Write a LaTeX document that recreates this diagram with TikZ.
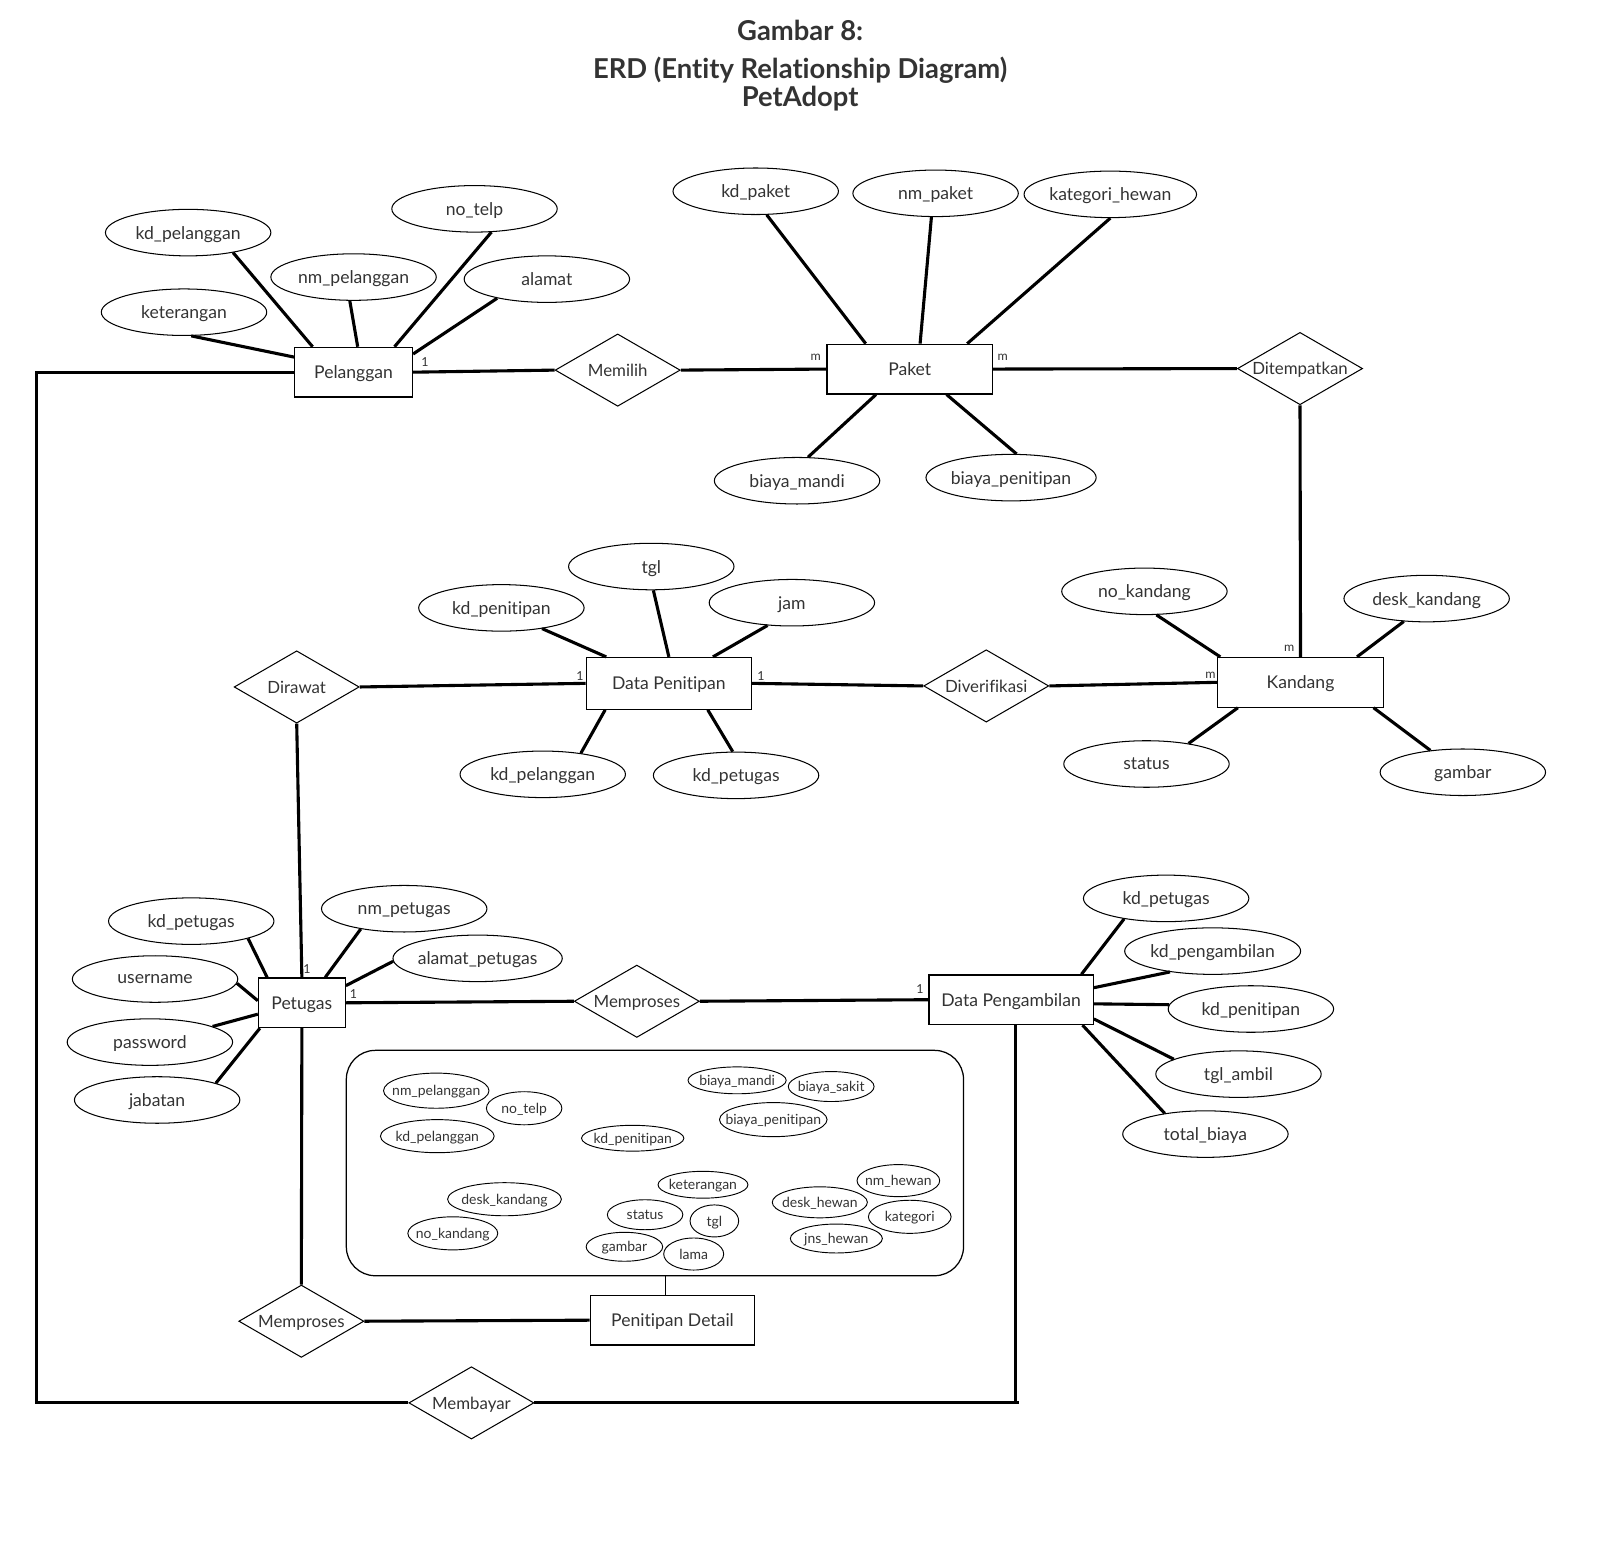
\documentclass[tikz,border=0pt]{standalone}
\usepackage{fontspec}
\setmainfont{Lato}[Ligatures=NoCommon]
\usetikzlibrary{shapes.geometric}
\definecolor{ink}{HTML}{333333}

\begin{document}
\begin{tikzpicture}[x=1pt,y=-1pt,
  every node/.style={text=ink, text depth=0pt},
  conn/.style={line width=3pt},
  entity/.style={draw, line width=1.2pt, minimum width=160pt, minimum height=48pt, inner sep=0pt, font=\fontsize{17}{18}\selectfont},
  attr/.style={draw, ellipse, line width=1pt, minimum width=160pt, minimum height=45pt, inner sep=0pt, font=\fontsize{17}{18}\selectfont},
  rel/.style={draw, diamond, line width=1pt, minimum width=121pt, minimum height=70pt, inner sep=0pt,
    label={[font=\fontsize{16.3}{18}\selectfont, text=ink]center:#1}},
  sattr/.style={draw, ellipse, line width=0.9pt, inner sep=0pt,
    label={[font=\fontsize{13.5}{14}\selectfont, text=ink]center:#1}},
  card/.style={font=\fontsize{12}{13}\selectfont, inner sep=0pt},
  heading/.style={font=\fontsize{26.5}{30}\selectfont\bfseries, text=ink},
]
\useasboundingbox (0,0) rectangle (1568,1500);

% heading
\node[heading] (t1) at (774,29) {Gambar 8:};
\node[heading] (t2) at (774,66) {ERD (Entity Relationship Diagram)};
\node[heading] (t3) at (774,93) {PetAdopt};

% entities
\node[entity, minimum width=114pt] (pel) at (342,360) {Pelanggan};
\node[entity] (pak) at (880,357) {Paket};
\node[entity, minimum height=50pt] (dp) at (647,661) {Data Penitipan};
\node[entity] (kand) at (1258,660) {Kandang};
\node[entity, minimum width=84pt] (pet) at (292,970) {Petugas};
\node[entity, minimum width=159pt] (dpg) at (978,967) {Data Pengambilan};
\node[entity, minimum width=159pt] (pdet) at (650.5,1277) {Penitipan Detail};

% relationships
\node[rel=Memilih] (memilih) at (597.5,358) {};
\node[rel=Ditempatkan] (ditem) at (1257.5,356.5) {};
\node[rel=Dirawat] (dirawat) at (287,664.5) {};
\node[rel=Diverifikasi] (diver) at (954,663.5) {};
\node[rel=Memproses] (memp1) at (616,968.5) {};
\node[rel=Memproses] (memp2) at (291.5,1278) {};
\node[rel=Membayar] (memb) at (456,1357) {};

% attributes of Pelanggan
\node[attr] (kdpel) at (182,225) {kd\_pelanggan};
\node[attr] (nmpel) at (342,268) {nm\_pelanggan};
\node[attr] (notelp) at (459,202) {no\_telp};
\node[attr] (alamat) at (529,270) {alamat};
\node[attr] (ket) at (178,302) {keterangan};

% attributes of Paket
\node[attr] (kdpak) at (731,185) {kd\_paket};
\node[attr] (nmpak) at (905,187) {nm\_paket};
\node[attr] (kathew) at (1074,188) {kategori\_hewan};
\node[attr] (bmandi) at (771,465) {biaya\_mandi};
\node[attr] (bpen) at (978,462) {biaya\_penitipan};

% attributes of Data Penitipan
\node[attr] (kdpen) at (485,588) {kd\_penitipan};
\node[attr] (tgl) at (630,548) {tgl};
\node[attr] (jam) at (766,583) {jam};
\node[attr] (dpkdpel) at (525,749) {kd\_pelanggan};
\node[attr] (dpkdpet) at (712,750) {kd\_petugas};

% attributes of Kandang
\node[attr] (nokand) at (1107,572) {no\_kandang};
\node[attr] (deskk) at (1380,579) {desk\_kandang};
\node[attr] (status) at (1109,739) {status};
\node[attr] (gambar) at (1415,747) {gambar};

% attributes of Petugas
\node[attr] (kdpet) at (185,891) {kd\_petugas};
\node[attr] (user) at (150,947) {username};
\node[attr] (pass) at (145,1008) {password};
\node[attr] (jab) at (152,1064) {jabatan};
\node[attr] (nmpet) at (391,879) {nm\_petugas};
\node[attr] (alpet) at (462,927) {alamat\_petugas};

% attributes of Data Pengambilan
\node[attr] (dpgkdpet) at (1128,869) {kd\_petugas};
\node[attr] (kdpeng) at (1173,920) {kd\_pengambilan};
\node[attr] (dpgkdpen) at (1210,976) {kd\_penitipan};
\node[attr] (tglamb) at (1198,1039) {tgl\_ambil};
\node[attr] (totb) at (1166,1097) {total\_biaya};

% Penitipan Detail grouping box and its attributes
\node[draw, rounded corners=28pt, line width=1.2pt, minimum width=597pt, minimum height=218pt, inner sep=0pt] (box) at (633.5,1125) {};
\node[sattr=nm\_pelanggan, minimum width=102pt, minimum height=34pt] (b1) at (422,1055) {};
\node[sattr=no\_telp, minimum width=73pt, minimum height=32pt] (b2) at (507,1072) {};
\node[sattr=kd\_pelanggan, minimum width=110pt, minimum height=32pt] (b3) at (423,1099) {};
\node[sattr=kd\_penitipan, minimum width=99pt, minimum height=25pt] (b4) at (612,1101) {};
\node[sattr=biaya\_mandi, minimum width=95pt, minimum height=26pt] (b5) at (713,1045) {};
\node[sattr=biaya\_sakit, minimum width=83pt, minimum height=29pt] (b6) at (804,1051) {};
\node[sattr=biaya\_penitipan, minimum width=104pt, minimum height=33pt] (b7) at (748,1083) {};
\node[sattr=desk\_kandang, minimum width=110pt, minimum height=32pt] (b8) at (488,1160) {};
\node[sattr=no\_kandang, minimum width=87pt, minimum height=32pt] (b9) at (438,1193) {};
\node[sattr=keterangan, minimum width=87pt, minimum height=26pt] (b10) at (680,1146) {};
\node[sattr=status, minimum width=73pt, minimum height=29pt] (b11) at (624,1175) {};
\node[sattr=tgl, minimum width=47pt, minimum height=31pt] (b12) at (691,1181) {};
\node[sattr=gambar, minimum width=74pt, minimum height=28pt] (b13) at (604,1206) {};
\node[sattr=lama, minimum width=58pt, minimum height=31pt] (b14) at (671,1213) {};
\node[sattr=nm\_hewan, minimum width=80pt, minimum height=31pt] (b15) at (869,1142) {};
\node[sattr=desk\_hewan, minimum width=92pt, minimum height=30pt] (b16) at (793,1163) {};
\node[sattr=kategori, minimum width=80pt, minimum height=32pt] (b17) at (880,1177) {};
\node[sattr=jns\_hewan, minimum width=89pt, minimum height=28pt] (b18) at (809,1198) {};

% attribute links
\draw[conn] (kdpel.-24.5) -- ([xshift=18pt]pel.north west);
\draw[conn] (nmpel.-99.5) -- ([xshift=4pt]pel.north);
\draw[conn] (notelp.-54.5) -- ([xshift=-18pt]pel.north east);
\draw[conn] (alamat.-159) -- ([yshift=-7pt]pel.north east);
\draw[conn] (ket.-73) -- ([yshift=-10pt]pel.north west);

\draw[conn] (kdpak.-65.6) -- ([xshift=38pt]pak.north west);
\draw[conn] (nmpak.-100) -- ([xshift=10pt]pak.north);
\draw[conn] (kathew.-90) -- ([xshift=-25pt]pak.north east);
\draw[conn] (bmandi.65.6) -- ([xshift=48pt]pak.south west);
\draw[conn] (bpen.77) -- ([xshift=-45pt]pak.south east);

\draw[conn] (kdpen.-27) -- ([xshift=20pt]dp.north west);
\draw[conn] (tgl.-85) -- (dp.north);
\draw[conn] (jam.-137.5) -- ([xshift=-38pt]dp.north east);
\draw[conn] (dpkdpel.29) -- ([xshift=19pt]dp.south west);
\draw[conn] (dpkdpet.98) -- ([xshift=-43pt]dp.south east);

\draw[conn] (nokand.-63.4) -- ([xshift=3pt]kand.north west);
\draw[conn] (deskk.-135) -- ([xshift=-26pt]kand.north east);
\draw[conn] (status.26) -- ([xshift=20pt]kand.south west);
\draw[conn] (gambar.146) -- ([xshift=-10pt]kand.south east);

\draw[conn] (kdpet.-17) -- ([xshift=9pt]pet.north west);
\draw[conn] (user.-3.9) -- ([yshift=2pt]pet.west);
\draw[conn] (pass.14.5) -- ([yshift=-11pt]pet.west);
\draw[conn] (jab.16) -- ([xshift=2pt]pet.south west);
\draw[conn] (nmpet.-155) -- ([xshift=-20pt]pet.north east);
\draw[conn] (alpet.-178.6) -- ([yshift=-8pt]pet.north east);

\draw[conn] (dpgkdpet.-154.5) -- ([xshift=-12pt]dpg.north east);
\draw[conn] (kdpeng.-154) -- ([yshift=-13pt]dpg.north east);
\draw[conn] (dpgkdpen.177.8) -- ([yshift=-4pt]dpg.east);
\draw[conn] (tglamb.167) -- ([yshift=6pt]dpg.south east);
\draw[conn] (totb.153.4) -- ([xshift=-11pt]dpg.south east);

% relationship links
\draw[conn] (pel.east) -- (memilih.west);
\draw[conn] (memilih.east) -- (pak.west);
\draw[conn] (pak.east) -- (ditem.west);
\draw[conn] (ditem.south) -- (kand.north);
\draw[conn] (dirawat.east) -- (dp.west);
\draw[conn] (dp.east) -- (diver.west);
\draw[conn] (diver.east) -- (kand.west);
\draw[conn] (dirawat.south) -- (pet.north);
\draw[conn] (pet.east) -- (memp1.west);
\draw[conn] (memp1.east) -- (dpg.west);
\draw[conn] (pet.south) -- (memp2.north);
\draw[conn] (memp2.east) -- (pdet.west);
\draw[line width=1pt] ([xshift=-7pt]pdet.north) -- ([xshift=-7pt]pdet.north |- box.south);

% outer Membayar loop
\coordinate (lt) at (35,359);
\coordinate (lb) at (35,1357);
\coordinate (rb) at (986,1357);
\draw[conn] (pel.west) -- (pel.west -| lt) -- (lb) -- (memb.west);
\draw[conn] (memb.east) -- (rb);
\draw[conn] ([xshift=4pt]dpg.south) -- ([xshift=4pt]dpg.south |- rb);

% cardinalities
\node[card] (c1) at (411,350) {1};
\node[card] (c2) at (789,346) {m};
\node[card] (c3) at (970,346) {m};
\node[card] (c4) at (1247,627) {m};
\node[card] (c5) at (1171,653) {m};
\node[card] (c6) at (561,654) {1};
\node[card] (c7) at (736,654) {1};
\node[card] (c8) at (297,937) {1};
\node[card] (c9) at (342,962) {1};
\node[card] (c10) at (890,957) {1};
\end{tikzpicture}
\end{document}
